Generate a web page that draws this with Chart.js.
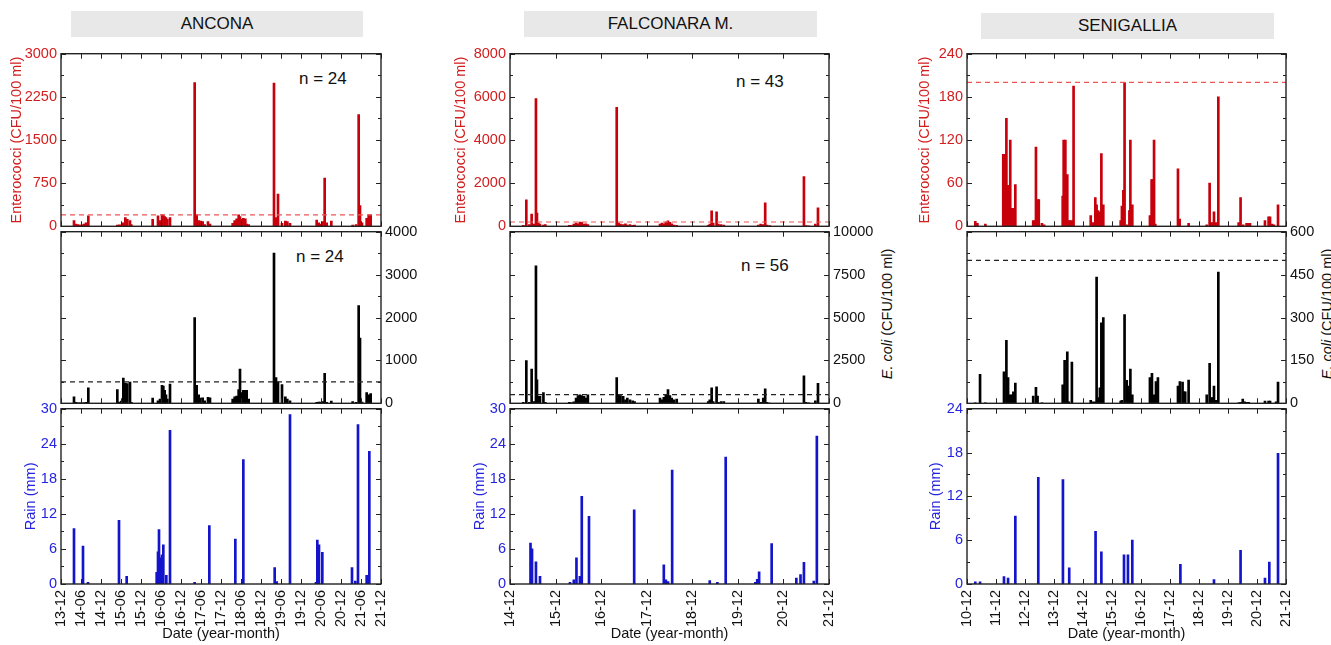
<!DOCTYPE html>
<html>
<head>
<meta charset="utf-8">
<script src="https://cdn.jsdelivr.net/npm/chart.js@4.4.1/dist/chart.umd.min.js"></script>
<style>
  body { margin: 0; background: #fff; }
  #wrap { position: relative; width: 1331px; height: 645px; overflow: hidden; font-family: "Liberation Sans", Arial, sans-serif; }
  #wrap canvas { position: absolute; }
  .site { position: absolute; height: 26px; line-height: 26px; background: #e8e8e8; color: #111; font-size: 17px; text-align: center; }
  .n { position: absolute; font-size: 17px; line-height: 17px; color: #111; white-space: nowrap; }
  .ecoli { position: absolute; width: 200px; height: 16px; line-height: 16px; font-size: 14.5px; color: #111; text-align: center; white-space: nowrap; transform: rotate(-90deg); }
</style>
</head>
<body>
<div id="wrap">
  <div class="site" style="left:71px;top:11px;width:292px">ANCONA</div>
  <div class="site" style="left:524px;top:11px;width:293px">FALCONARA M.</div>
  <div class="site" style="left:981px;top:13px;width:293px">SENIGALLIA</div>
  <div class="n" style="left:299px;top:70px">n = 24</div>
  <div class="n" style="left:296px;top:248px">n = 24</div>
  <div class="n" style="left:736px;top:73px">n = 43</div>
  <div class="n" style="left:741px;top:257px">n = 56</div>
  <div class="ecoli" style="left:787px;top:306px"><i>E. coli</i> (CFU/100 ml)</div>
  <div class="ecoli" style="left:1227px;top:306px"><i>E. coli</i> (CFU/100 ml)</div>
</div>
<script>
// ---- Ancona ----
var anconaTicks = ['13-12', '14-06', '14-12', '15-06', '15-12', '16-06', '16-12', '17-06', '17-12',
    '18-06', '18-12', '19-06', '19-12', '20-06', '20-12', '21-06', '21-12'];
var anconaDates = [
    '2014-03-28', '2014-04-16', '2014-05-04', '2014-05-22', '2014-06-10', '2014-06-28', '2014-07-16', '2014-08-07',
    '2015-04-28', '2015-05-16', '2015-06-04', '2015-06-22', '2015-07-10', '2015-07-28', '2015-08-22', '2015-09-04',
    '2016-03-16', '2016-05-04', '2016-05-22', '2016-06-10', '2016-06-22', '2016-07-04', '2016-07-16', '2016-07-28', '2016-08-22',
    '2017-04-04', '2017-04-22', '2017-05-10', '2017-05-28', '2017-06-16', '2017-07-04', '2017-08-04', '2017-08-22',
    '2018-03-16', '2018-04-04', '2018-04-22', '2018-05-10', '2018-05-22', '2018-06-10', '2018-06-22', '2018-07-10', '2018-07-22', '2018-08-10',
    '2019-03-28', '2019-04-16', '2019-05-04', '2019-06-10', '2019-07-10', '2019-07-28', '2019-08-22',
    '2020-04-22', '2020-05-10', '2020-05-28', '2020-06-16', '2020-07-04', '2020-07-22', '2020-09-04',
    '2021-03-16', '2021-04-16', '2021-05-10', '2021-05-22', '2021-06-10', '2021-07-22', '2021-08-10', '2021-08-28'];
var anconaEntero = [
    100, 40, 30, 20, 25, 40, 60, 180,
    20, 25, 20, 60, 150, 120, 100, 30,
    120, 180, 100, 200, 200, 170, 150, 120, 150,
    2500, 200, 100, 90, 80, 30, 80, 40,
    50, 100, 130, 200, 170, 120, 140, 130, 40, 30,
    2490, 150, 560, 50, 90, 80, 50,
    110, 60, 40, 80, 840, 60, 90,
    20, 30, 1940, 360, 60, 140, 200, 200];
var anconaEcoli = [
    150, 20, 10, 10, 10, 10, 20, 360,
    320, 30, 50, 585, 470, 460, 495, 20,
    120, 60, 100, 420, 400, 300, 200, 100, 450,
    2000, 420, 200, 120, 130, 60, 140, 130,
    100, 150, 170, 320, 795, 250, 300, 300, 300, 100,
    3500, 600, 500, 435, 150, 100, 60,
    20, 30, 30, 40, 700, 20, 50,
    40, 20, 2275, 1520, 30, 250, 200, 225];
var anconaRainDates = [
    '2014-03-28', '2014-06-19', '2014-08-04', '2015-05-13', '2015-07-22',
    '2016-04-22', '2016-05-04', '2016-05-13', '2016-05-28', '2016-06-10', '2016-06-22', '2016-07-19', '2016-08-22',
    '2017-04-04', '2017-08-16', '2018-04-10', '2018-06-22', '2019-04-04', '2019-04-22', '2019-08-22',
    '2020-04-16', '2020-04-28', '2020-05-13', '2020-06-13',
    '2021-03-10', '2021-04-10', '2021-05-04', '2021-07-22', '2021-08-16'];
var anconaRain = [
    9.5, 6.5, 0.3, 10.9, 1.3,
    2, 5.5, 9.3, 4.5, 5, 6.7, 1.5, 26.3,
    0.3, 10.0, 7.7, 21.3, 2.8, 0.4, 29.0,
    0.3, 7.5, 6.7, 5.4,
    2.8, 0.5, 27.3, 1.5, 22.7];

// ---- Falconara M. ----
var falconaraTicks = ['14-12', '15-12', '16-12', '17-12', '18-12', '19-12', '20-12', '21-12'];
var falconaraDates = [
    '2015-03-16', '2015-04-10', '2015-05-04', '2015-05-22', '2015-06-10', '2015-06-26', '2015-07-04', '2015-07-15', '2015-07-28', '2015-08-25', '2015-09-10',
    '2016-03-19', '2016-04-04', '2016-04-25', '2016-05-13', '2016-05-28', '2016-06-13', '2016-06-28', '2016-07-16', '2016-08-01', '2016-08-16',
    '2017-04-04', '2017-04-19', '2017-05-04', '2017-05-25', '2017-06-13', '2017-06-28', '2017-07-19', '2017-08-10', '2017-08-25',
    '2018-03-16', '2018-04-01', '2018-04-16', '2018-05-02', '2018-05-19', '2018-06-04', '2018-06-19', '2018-07-07', '2018-07-28',
    '2019-04-07', '2019-04-19', '2019-05-04', '2019-05-16', '2019-06-13', '2019-06-28', '2019-07-19', '2019-08-10',
    '2020-05-13', '2020-06-01', '2020-06-22', '2020-07-07', '2020-07-22', '2020-08-13',
    '2021-05-13', '2021-05-28', '2021-06-19', '2021-08-13', '2021-09-04'];
var falconaraEntero = [
    50, 1230, 80, 570, 100, 5920, 615, 150, 100, 60, 80,
    50, 40, 100, 150, 120, 200, 180, 100, 120, 80,
    5510, 150, 100, 80, 120, 60, 80, 50, 60,
    100, 150, 120, 200, 250, 180, 120, 60, 40,
    50, 100, 720, 150, 675, 100, 80, 60,
    60, 100, 80, 1090, 60, 30,
    2310, 30, 20, 100, 855];
var falconaraEcoli = [
    50, 2495, 50, 1990, 100, 8010, 1370, 400, 400, 620, 50,
    50, 40, 80, 300, 450, 500, 450, 400, 300, 500,
    1500, 500, 450, 400, 200, 300, 200, 150, 100,
    300, 200, 350, 500, 800, 450, 300, 200, 250,
    100, 200, 900, 100, 960, 50, 100, 100,
    250, 50, 300, 845, 50, 20,
    1595, 50, 30, 150, 1165];
var falconaraRainDates = [
    '2015-05-13', '2015-05-25', '2015-06-26', '2015-07-28',
    '2016-03-25', '2016-04-25', '2016-05-16', '2016-06-13', '2016-06-28', '2016-08-25',
    '2017-08-22', '2018-04-16', '2018-05-02', '2018-05-19', '2018-06-22',
    '2019-04-19', '2019-06-19', '2019-08-25',
    '2020-04-19', '2020-05-04', '2020-05-19', '2020-08-28',
    '2021-03-13', '2021-04-16', '2021-05-13', '2021-08-01', '2021-08-25'];
var falconaraRain = [
    7.0, 6.0, 3.8, 1.3,
    0.3, 0.7, 4.5, 1.3, 15.0, 11.6,
    12.7, 3.3, 0.7, 0.4, 19.5,
    0.6, 0.3, 21.7,
    0.3, 0.8, 2.1, 6.9,
    1.0, 1.6, 3.7, 0.5, 25.3];

// ---- Senigallia ----
var senigalliaTicks = ['10-12', '11-12', '12-12', '13-12', '14-12', '15-12', '16-12', '17-12', '18-12', '19-12', '20-12', '21-12'];
var senigalliaEnteroDates = [
    '2011-03-14', '2011-04-10', '2011-07-19',
    '2012-03-01', '2012-03-19', '2012-04-10', '2012-05-01', '2012-05-16', '2012-05-28', '2012-06-19', '2012-07-07', '2012-08-01',
    '2013-03-13', '2013-04-01', '2013-04-17', '2013-05-07', '2013-05-22', '2013-07-01', '2013-07-28',
    '2014-03-19', '2014-04-01', '2014-04-22', '2014-05-16', '2014-06-04', '2014-06-19', '2014-07-13', '2014-08-04',
    '2015-03-07', '2015-04-01', '2015-05-04', '2015-05-20', '2015-06-07', '2015-06-25', '2015-07-19', '2015-08-13',
    '2016-03-19', '2016-04-04', '2016-04-22', '2016-05-07', '2016-06-04', '2016-07-07', '2016-07-19', '2016-08-13',
    '2017-03-22', '2017-04-13', '2017-04-25', '2017-05-13', '2017-05-28',
    '2018-03-10', '2018-04-01', '2018-07-22',
    '2019-03-07', '2019-04-13', '2019-05-01', '2019-05-22', '2019-06-07', '2019-06-28', '2019-08-01',
    '2020-04-13', '2020-05-07', '2020-06-10', '2020-07-22', '2020-08-19', '2020-09-04',
    '2021-03-10', '2021-04-25', '2021-05-13', '2021-06-07', '2021-07-01', '2021-08-22'];
var senigalliaEntero = [
    7, 4, 3,
    100, 100, 150, 57, 57, 120, 25, 25, 58,
    8, 8, 110, 37, 37, 4, 2,
    42, 120, 120, 72, 8, 8, 8, 195,
    15, 5, 40, 30, 22, 20, 101, 30,
    8, 28, 50, 200, 2, 22, 120, 30,
    15, 65, 65, 120, 3,
    80, 10, 4,
    2, 60, 5, 5, 20, 5, 180,
    5, 40, 2, 4, 4, 4,
    8, 13, 13, 3, 2, 30];
var senigalliaEcoliDates = [
    '2011-03-14', '2011-05-13', '2011-07-19',
    '2012-03-10', '2012-04-10', '2012-05-01', '2012-05-25', '2012-06-19', '2012-07-07', '2012-08-01',
    '2013-03-13', '2013-04-17', '2013-05-07', '2013-07-01',
    '2014-03-19', '2014-04-13', '2014-05-16', '2014-06-04', '2014-07-13',
    '2015-03-07', '2015-04-01', '2015-05-04', '2015-05-20', '2015-06-16', '2015-07-01', '2015-07-19', '2015-08-13',
    '2016-03-19', '2016-04-04', '2016-05-07', '2016-06-04', '2016-06-28', '2016-07-19', '2016-08-13',
    '2017-03-22', '2017-04-17', '2017-05-13', '2017-06-07', '2017-07-01',
    '2018-03-10', '2018-04-04', '2018-05-07', '2018-05-25', '2018-06-10', '2018-07-22',
    '2019-03-07', '2019-04-13', '2019-05-01', '2019-05-22', '2019-06-07', '2019-06-28', '2019-08-01',
    '2020-04-13', '2020-05-07', '2020-06-04', '2020-06-28', '2020-07-22', '2020-08-19',
    '2021-03-10', '2021-04-25', '2021-05-13', '2021-07-28', '2021-08-22'];
var senigalliaEcoli = [
    2, 101, 2,
    110, 220, 90, 30, 30, 40, 71,
    25, 56, 25, 2,
    65, 150, 180, 5, 144,
    10, 5, 5, 441, 20, 54, 281, 300,
    8, 10, 310, 80, 60, 120, 30,
    90, 105, 30, 76, 90,
    60, 76, 74, 40, 40, 81,
    30, 140, 20, 20, 60, 10, 459,
    2, 3, 15, 5, 3, 3,
    8, 8, 8, 5, 74];
var senigalliaRainDates = [
    '2011-03-14', '2011-05-13', '2012-03-10', '2012-05-01', '2012-08-01', '2013-05-16',
    '2014-03-22', '2014-06-10', '2015-05-07', '2015-07-19', '2016-04-30', '2016-06-19', '2016-08-13',
    '2018-04-10', '2019-06-07', '2020-05-07', '2021-03-10', '2021-05-04', '2021-08-22'];
var senigalliaRain = [
    0.3, 0.3, 1.0, 0.8, 9.3, 14.6,
    14.3, 2.2, 7.2, 4.4, 4.0, 4.0, 6.0,
    2.7, 0.6, 4.6, 0.8, 3.0, 17.9];

// guide values drawn as dashed lines
var enteroLimit = 200;
var ecoliLimit = 500;

var RED = '#c8000c', RED_TXT = '#d21e1e', RED_DASH = '#ee5555';
var BLUE = '#1414cc', BLUE_TXT = '#2424e0';
var BLACK = '#111';

Chart.defaults.font.family = "'Liberation Sans', Arial, sans-serif";
Chart.defaults.font.size = 14.5;
Chart.defaults.animation = false;

var ROWS = [51, 229, 406, 584];
var PAD = 60;

// 'YYYY-MM-DD' -> months since Jan 2000
function monthOf(s) {
    var p = s.split('-');
    return (p[0] - 2000) * 12 + (p[1] - 1) + (p[2] - 1) / 30;
}
// 'YY-MM' tick label -> months since Jan 2000
function tickMonth(l) {
    var p = l.split('-');
    return (+p[0]) * 12 + (+p[1] - 1);
}
function pts(dates, vals) {
    return dates.map(function (d, i) { return {x: monthOf(d), y: vals[i]}; });
}

// box frame with inward ticks on all four sides
var boxTicks = {
    id: 'boxTicks',
    afterDatasetsDraw: function (chart, args, o) {
        var ctx = chart.ctx, a = chart.chartArea;
        var ys = chart.scales.y, xs = chart.scales.x;
        ctx.save();
        ctx.strokeStyle = '#222';
        ctx.lineWidth = 1;
        ctx.beginPath();
        var vals = ys.ticks.map(function (t) { return t.value; });
        vals.forEach(function (v, i) {
            var p = Math.round(ys.getPixelForValue(v)) + 0.5;
            ctx.moveTo(a.left, p); ctx.lineTo(a.left + 5, p);
            ctx.moveTo(a.right, p); ctx.lineTo(a.right - 5, p);
            if (i > 0) {
                var m = Math.round(ys.getPixelForValue((v + vals[i - 1]) / 2)) + 0.5;
                ctx.moveTo(a.left, m); ctx.lineTo(a.left + 3, m);
                ctx.moveTo(a.right, m); ctx.lineTo(a.right - 3, m);
            }
        });
        o.xTicks.forEach(function (l) {
            var p = Math.round(xs.getPixelForValue(tickMonth(l))) + 0.5;
            ctx.moveTo(p, a.bottom); ctx.lineTo(p, a.bottom - 5);
            ctx.moveTo(p, a.top); ctx.lineTo(p, a.top + 5);
        });
        ctx.stroke();
        ctx.lineWidth = 1.4;
        ctx.strokeRect(a.left, a.top, a.right - a.left, a.bottom - a.top);
        ctx.restore();
    }
};

function limitLine(col, value, color) {
    return {
        type: 'line',
        data: [{x: tickMonth(col.ticks[0]), y: value}, {x: tickMonth(col.ticks[col.ticks.length - 1]), y: value}],
        borderColor: color,
        borderWidth: 1.2,
        borderDash: [5, 4],
        pointRadius: 0,
        order: 0
    };
}

function bars(data, color) {
    return {type: 'bar', data: data, backgroundColor: color, borderWidth: 0, barThickness: 2, order: 1};
}

function panel(col, row, p) {
    var wrap = document.getElementById('wrap');
    var top = ROWS[row];
    var bottomRow = row === 2;
    var cv = document.createElement('canvas');
    cv.width = col.right - col.left + 2 * PAD;
    cv.height = bottomRow ? 645 - top + 10 : ROWS[row + 1] - top + 20;
    cv.style.left = (col.left - PAD) + 'px';
    cv.style.top = (top - 10) + 'px';
    wrap.appendChild(cv);

    var xMin = tickMonth(col.ticks[0]), xMax = tickMonth(col.ticks[col.ticks.length - 1]);

    new Chart(cv, {
        type: 'bar',
        data: {datasets: p.datasets},
        options: {
            responsive: false,
            layout: {
                padding: {
                    top: 10,
                    bottom: bottomRow ? 0 : 10,
                    left: p.side === 'right' ? PAD : 0,
                    right: p.side === 'left' ? PAD : 0
                }
            },
            plugins: {
                legend: {display: false},
                tooltip: {enabled: false},
                boxTicks: {xTicks: col.ticks}
            },
            scales: {
                x: {
                    type: 'linear',
                    offset: false,
                    min: xMin,
                    max: xMax,
                    display: bottomRow,
                    grid: {display: false, drawTicks: false},
                    border: {display: false},
                    afterBuildTicks: function (s) {
                        s.ticks = col.ticks.map(function (l) { return {value: tickMonth(l)}; });
                    },
                    afterFit: function (s) { s.height = bottomRow ? 645 - ROWS[3] : 0; },
                    ticks: {
                        autoSkip: false,
                        minRotation: 90,
                        maxRotation: 90,
                        padding: 6,
                        color: BLACK,
                        callback: function (v, i) { return col.ticks[i]; }
                    },
                    title: {
                        display: true,
                        text: 'Date (year-month)',
                        color: BLACK,
                        font: {size: 14.5},
                        padding: {top: 0, bottom: 2}
                    }
                },
                y: {
                    position: p.side,
                    min: p.min,
                    max: p.max,
                    grid: {display: false, drawTicks: false},
                    border: {display: false},
                    afterFit: function (s) { s.width = PAD; },
                    ticks: {
                        stepSize: p.step,
                        color: p.tickColor,
                        padding: 4,
                        callback: function (v) { return String(v); }
                    },
                    title: {
                        display: !!p.title,
                        text: p.title || '',
                        color: p.tickColor,
                        font: {size: 14.5},
                        padding: {top: p.titlePad || 0, bottom: 0}
                    }
                }
            }
        },
        plugins: [boxTicks]
    });
}

var columns = [
    {left: 61, right: 381, ticks: anconaTicks, entPad: 7, rainPad: 21,
        ent: pts(anconaDates, anconaEntero), coli: pts(anconaDates, anconaEcoli), rain: pts(anconaRainDates, anconaRain),
        entMax: 3000, entStep: 750, coliMax: 4000, coliStep: 1000, rainMax: 30},
    {left: 510, right: 829, ticks: falconaraTicks, entPad: 2, rainPad: 21,
        ent: pts(falconaraDates, falconaraEntero), coli: pts(falconaraDates, falconaraEcoli), rain: pts(falconaraRainDates, falconaraRain),
        entMax: 8000, entStep: 2000, coliMax: 10000, coliStep: 2500, rainMax: 30},
    {left: 967, right: 1286, ticks: senigalliaTicks, entPad: 9, rainPad: 20.5,
        ent: pts(senigalliaEnteroDates, senigalliaEntero), coli: pts(senigalliaEcoliDates, senigalliaEcoli), rain: pts(senigalliaRainDates, senigalliaRain),
        entMax: 240, entStep: 60, coliMax: 600, coliStep: 150, rainMax: 24}
];

columns.forEach(function (col) {
    panel(col, 0, {
        side: 'left', min: 0, max: col.entMax, step: col.entStep, tickColor: RED_TXT,
        title: 'Enterococci (CFU/100 ml)', titlePad: col.entPad,
        datasets: [bars(col.ent, RED), limitLine(col, enteroLimit, RED_DASH)]
    });
    panel(col, 1, {
        side: 'right', min: 0, max: col.coliMax, step: col.coliStep, tickColor: BLACK,
        datasets: [bars(col.coli, '#000'), limitLine(col, ecoliLimit, '#222')]
    });
    panel(col, 2, {
        side: 'left', min: 0, max: col.rainMax, step: 6, tickColor: BLUE_TXT,
        title: 'Rain (mm)', titlePad: col.rainPad,
        datasets: [bars(col.rain, BLUE)]
    });
});
</script>
</body>
</html>
